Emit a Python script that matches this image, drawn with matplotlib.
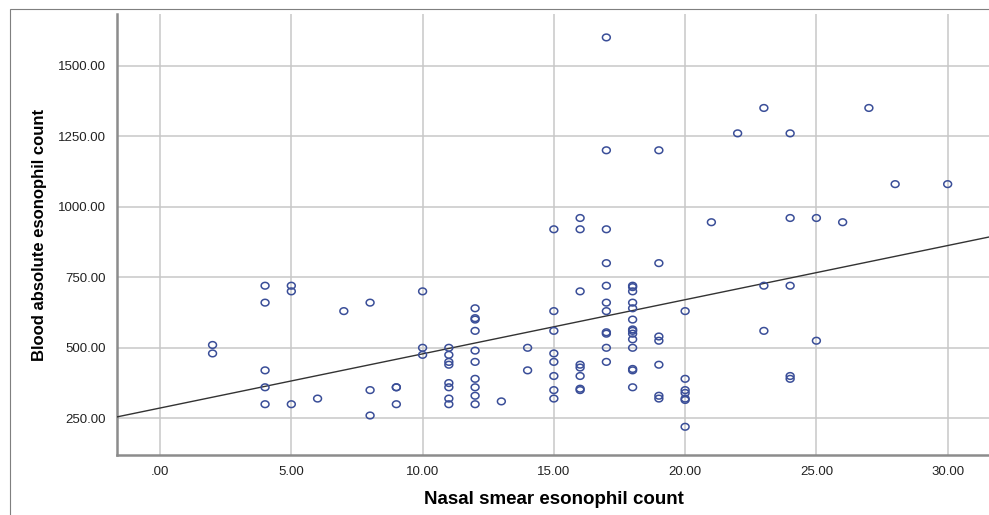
import matplotlib
matplotlib.use("Agg")
import matplotlib.pyplot as plt
import numpy as np
from matplotlib.patches import Rectangle
from matplotlib.path import Path

plt.rcParams['font.family'] = ['Liberation Sans', 'DejaVu Sans']

# nasal smear count -> list of blood absolute counts
groups = {
    2: [510, 480],
    4: [720, 660, 420, 360, 300],
    5: [720, 700, 300],
    6: [320],
    7: [630],
    8: [660, 350, 260],
    9: [360, 360, 300],
    10: [700, 500, 475],
    11: [500, 475, 450, 440, 375, 360, 320, 300],
    12: [640, 600, 605, 560, 490, 450, 390, 360, 330, 300],
    13: [310],
    14: [500, 420],
    15: [920, 630, 560, 480, 450, 400, 350, 320],
    16: [960, 920, 700, 440, 430, 400, 355, 350],
    17: [1600, 1200, 920, 800, 720, 660, 630, 550, 555, 500, 450],
    18: [720, 715, 700, 660, 640, 600, 560, 565, 550, 530, 500, 420, 425, 360],
    19: [1200, 800, 540, 525, 440, 330, 320],
    20: [630, 390, 350, 340, 320, 315, 220],
    21: [945],
    22: [1260],
    23: [1350, 720, 560],
    24: [1260, 960, 720, 400, 390],
    25: [960, 525],
    26: [945],
    27: [1350],
    28: [1080],
    30: [1080],
}

nasal = []
blood = []
for k in groups:
    for v in groups[k]:
        nasal.append(k)
        blood.append(v)
nasal = np.array(nasal, dtype=float)
blood = np.array(blood, dtype=float)

x_ticks = [0, 5, 10, 15, 20, 25, 30]
x_labels = ['.00', '5.00', '10.00', '15.00', '20.00', '25.00', '30.00']
y_ticks = [250, 500, 750, 1000, 1250, 1500]
y_labels = ['250.00', '500.00', '750.00', '1000.00', '1250.00', '1500.00']

# slightly flattened circle like the SPSS marker
t = np.linspace(0, 2*np.pi, 40)
ellipse = Path(np.column_stack([np.cos(t), 0.85*np.sin(t)]), closed=True)

fig = plt.figure(figsize=(9.89, 5.15), dpi=100)
ax = fig.add_axes([117/989, 60/515, 1 - 117/989 + 0.002, 441/515])

# outer frame
fig.patches.append(Rectangle((10/989, -0.05), 1.2, 1 - 9/515 + 0.05,
                             transform=fig.transFigure, fill=False,
                             edgecolor='#7f7f7f', linewidth=0.8))

xmin, xmax = -1.64, 31.65
slope, intercept = np.polyfit(nasal, blood, 1)
xx = np.array([xmin, xmax])
ax.plot(xx, intercept + slope*xx, color='#333333', linewidth=1.0, zorder=3)

ax.scatter(nasal, blood, s=32, marker=ellipse, facecolors='none',
           edgecolors='#3a4e98', linewidths=1.1, zorder=4)

ax.set_xlim(xmin, xmax)
ax.set_ylim(120, 1683)
ax.set_xticks(x_ticks)
ax.set_xticklabels(x_labels)
ax.set_yticks(y_ticks)
ax.set_yticklabels(y_labels)
ax.tick_params(length=0, labelsize=9.5, colors='#222222', pad=8)
ax.grid(True, color='#c8c8c8', linewidth=1.1)
ax.set_axisbelow(True)

for s in ['top', 'right']:
    ax.spines[s].set_visible(False)
for s in ['left', 'bottom']:
    ax.spines[s].set_color('#8c8c8c')
    ax.spines[s].set_linewidth(1.8)

ax.set_xlabel('Nasal smear esonophil count', fontsize=13.5, fontweight='bold', labelpad=9)
ax.set_ylabel('Blood absolute esonophil count', fontsize=12, fontweight='bold', labelpad=8)

fig.savefig('out.png', dpi=100)
